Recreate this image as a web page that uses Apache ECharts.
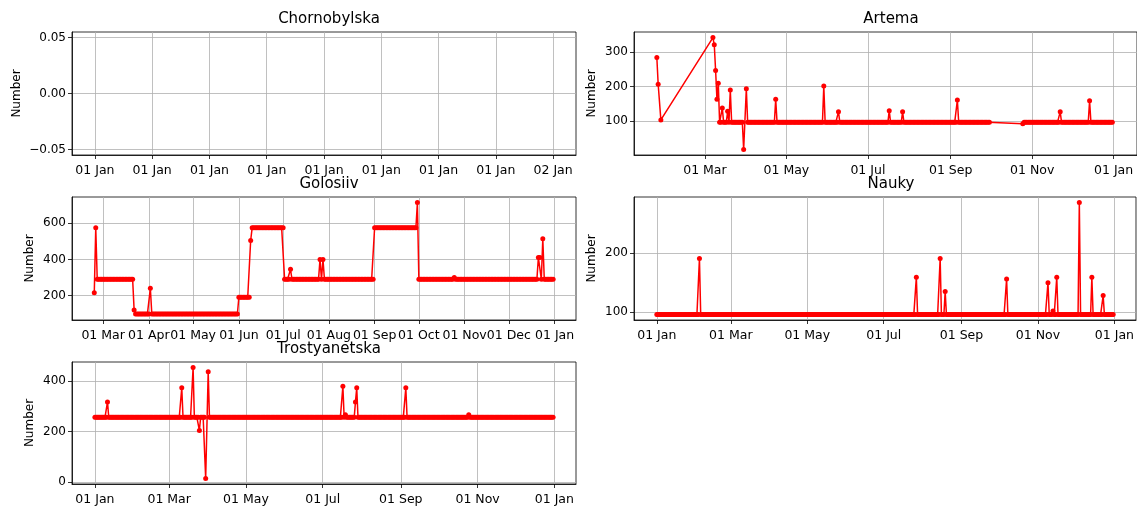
<!DOCTYPE html>
<html><head><meta charset="utf-8">
<script src="https://cdn.jsdelivr.net/npm/echarts@6/dist/echarts.min.js"></script>
<style>html,body{margin:0;padding:0;background:#fff}#c{width:1137px;height:506px}</style>
</head><body><div id="c"></div>
<script>
// ---- tick data (day-of-year, 2022) ----
const monthTickDays = [0,31,59,90,120,151,181,212,243,273,304,334,365];
const monthTickLabels = ['01 Jan','01 Feb','01 Mar','01 Apr','01 May','01 Jun','01 Jul','01 Aug','01 Sep','01 Oct','01 Nov','01 Dec','01 Jan'];
const biMonthTickDays = [0,59,120,181,243,304,365];
const chornoTicks = [0,1,2,3,4,5,6,7,8];
const chornoTickLabels = ['01 Jan','01 Jan','01 Jan','01 Jan','01 Jan','01 Jan','01 Jan','01 Jan','02 Jan'];

// ---- series data: constant runs [firstDay, lastDay, value] + single-day points [day, value] ----
const chornobylskaPoints = [];

const artemaRuns = [[23,23,285],[24,24,207],[26,26,103],[65,88,96],[90,272,96],[297,297,92],[298,364,96]];
const artemaSpikes = [[65,343],[66,322],[67,247],[68,163],[69,210],[72,138],[76,128],[78,190],[88,17],[90,194],
  [112,163],[148,202],[159,127],[197,130],[207,127],[248,161],[325,127],[347,159]];

const golosiivRuns = [[53,53,215],[54,54,575],[55,79,290],[80,80,120],[81,150,97],[151,158,190],[159,159,505],
  [160,181,575],[182,242,290],[243,271,575],[272,272,715],[273,364,290]];
const golosiivSpikes = [[91,240],[186,345],[206,400],[208,400],[297,300],[354,410],[355,410],[357,515]];

const naukyRuns = [[0,364,96]];
const naukySpikes = [[34,191],[207,159],[226,191],[230,135],[279,156],[312,150],[316,102],[319,159],[337,286],[347,159],[356,128]];

const trostRuns = [[0,87,256],[90,364,256]];
const trostSpikes = [[10,317],[69,373],[78,453],[83,204],[88,14],[90,436],[197,379],[199,266],[207,317],[208,373],[247,373],[297,266]];

const titles = ['Chornobylska','Artema','Golosiiv','Nauky','Trostyanetska'];

function build(runs, spikes){
  const m = new Map();
  runs.forEach(([a,b,v])=>{ for(let d=a; d<=b; d++) m.set(d, v); });
  spikes.forEach(([d,v])=>m.set(d, v));
  return [...m.entries()].sort((p,q)=>p[0]-q[0]);
}

const FONT = 'DejaVu Sans';
const grids = [
  {left:72, top:32, width:504, height:123},
  {left:634, top:32, width:504, height:123},
  {left:72, top:197, width:504, height:123},
  {left:634, top:197, width:504, height:123},
  {left:72, top:362, width:504, height:123}
];

function monthFmt(v){
  const i = monthTickDays.indexOf(Math.round(v));
  return i >= 0 ? monthTickLabels[i] : '';
}
function chornoFmt(v){
  const i = chornoTicks.indexOf(Math.round(v));
  return i >= 0 ? chornoTickLabels[i] : '';
}

function xAxis(idx, min, max, ticks, fmt){
  return {
    type:'value', gridIndex:idx, min:min, max:max,
    axisLine:{show:true, onZero:false, lineStyle:{color:'#000', width:0.8}},
    axisTick:{show:true, inside:false, length:4, customValues:ticks, lineStyle:{color:'#000', width:0.8}},
    axisLabel:{show:true, margin:9, customValues:ticks, formatter:fmt, color:'#000', fontSize:12.5, fontFamily:FONT},
    splitLine:{show:true, lineStyle:{color:'#b0b0b0', width:0.8}}
  };
}
function yAxis(idx, min, max, ticks, fmt, gap){
  return {
    type:'value', gridIndex:idx, min:min, max:max,
    name:'Number', nameLocation:'middle', nameGap:gap, nameRotate:90,
    nameTextStyle:{color:'#000', fontSize:12, fontFamily:FONT},
    axisLine:{show:true, onZero:false, lineStyle:{color:'#000', width:0.8}},
    axisTick:{show:true, inside:false, length:4, customValues:ticks, lineStyle:{color:'#000', width:0.8}},
    axisLabel:{show:true, margin:6, customValues:ticks, formatter:fmt, color:'#000', fontSize:12, fontFamily:FONT},
    splitLine:{show:true, lineStyle:{color:'#b0b0b0', width:0.8}}
  };
}
const intFmt = v => String(Math.round(v));
const decFmt = v => { const s = v.toFixed(2); return s.replace('-', '\u2212'); };

function lineSeries(idx, data){
  return {
    type:'line', xAxisIndex:idx, yAxisIndex:idx, data:data,
    symbol:'circle', symbolSize:5, showSymbol:true,
    lineStyle:{color:'#ff0000', width:1.5}, itemStyle:{color:'#ff0000'},
    animation:false, silent:true, clip:true
  };
}

const option = {
  animation:false,
  backgroundColor:'#fff',
  title: titles.map((t,i)=>({
    text:t, left:grids[i].left + 252, top:grids[i].top - 25, textAlign:'center',
    textStyle:{fontSize:15, fontWeight:'normal', color:'#000', fontFamily:FONT}
  })),
  grid: grids.map(g=>Object.assign({show:true, borderColor:'#000', borderWidth:0.8, backgroundColor:'transparent'}, g)),
  xAxis: [
    xAxis(0, -0.4, 8.4, chornoTicks, chornoFmt),
    xAxis(1, 5.9, 382.5, biMonthTickDays, monthFmt),
    xAxis(2, 37.9, 379.5, monthTickDays, monthFmt),
    xAxis(3, -18.2, 382.2, biMonthTickDays, monthFmt),
    xAxis(4, -18.2, 382.2, biMonthTickDays, monthFmt)
  ],
  yAxis: [
    yAxis(0, -0.055, 0.055, [-0.05, 0, 0.05], decFmt, 49),
    yAxis(1, 0.7, 359.3, [100,200,300], intFmt, 36),
    yAxis(2, 64, 746, [200,400,600], intFmt, 36),
    yAxis(3, 86.5, 295.5, [100,200], intFmt, 36),
    yAxis(4, -8, 475, [0,200,400], intFmt, 36)
  ],
  series: [
    lineSeries(0, chornobylskaPoints),
    lineSeries(1, build(artemaRuns, artemaSpikes)),
    lineSeries(2, build(golosiivRuns, golosiivSpikes)),
    lineSeries(3, build(naukyRuns, naukySpikes)),
    lineSeries(4, build(trostRuns, trostSpikes))
  ]
};
const chart = echarts.init(document.getElementById('c'), null, {renderer:'canvas'});
chart.setOption(option);
</script>
</body></html>
